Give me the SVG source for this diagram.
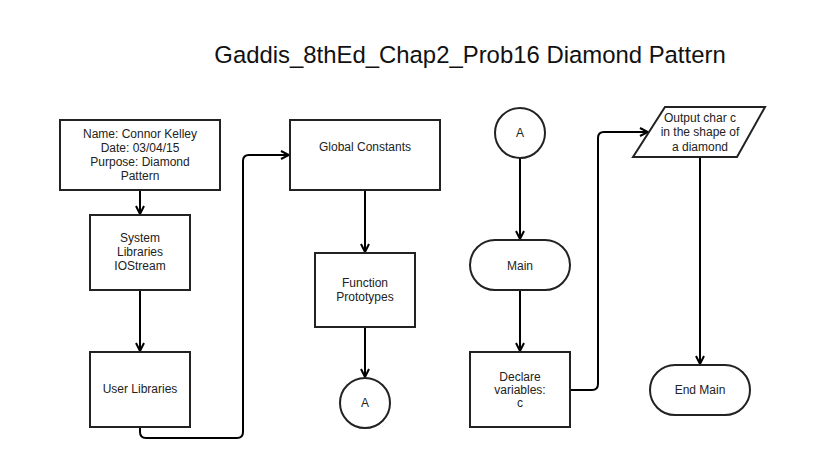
<svg xmlns="http://www.w3.org/2000/svg" width="838" height="464" viewBox="0 0 838 464">
<defs>
<style>
.n{fill:#fff;stroke:#222;stroke-width:2}
.t{font-family:"Liberation Sans",Arial,sans-serif;font-size:12px;fill:#222;text-anchor:middle;dominant-baseline:central}
.c{fill:none;stroke:#000;stroke-width:2;marker-end:url(#ah)}
</style>
<marker id="ah" viewBox="0 0 10 10" refX="9" refY="5" markerWidth="10" markerHeight="10" markerUnits="userSpaceOnUse" orient="auto">
<path d="M1,1 L9,5 L1,9" fill="none" stroke="#000" stroke-width="2"/>
</marker>
</defs>
<rect width="838" height="464" fill="#fff"/>
<text x="470" y="63" style="font-family:'Liberation Sans',Arial,sans-serif;font-size:23.9px;fill:#111;text-anchor:middle">Gaddis_8thEd_Chap2_Prob16 Diamond Pattern</text>
<g id="connectors">
<path class="c" d="M140,190 V214"/>
<path class="c" d="M140,290 V351"/>
<path class="c" d="M140,427 V432 Q140,438 146,438 H237 Q243,438 243,432 V161 Q243,155 249,155 H289"/>
<path class="c" d="M365,190 V252"/>
<path class="c" d="M365,327 V377"/>
<path class="c" d="M520,158 V239"/>
<path class="c" d="M520,290 V351"/>
<path class="c" d="M570,390 H592 Q598,390 598,384 V138 Q598,132 604,132 H648"/>
<path class="c" d="M700,157 V364"/>
</g>
<g id="n1"><rect class="n" x="60" y="120" width="160" height="70"/>
<text class="t" x="140" y="134">Name: Connor Kelley</text><text class="t" x="140" y="148">Date: 03/04/15</text><text class="t" x="140" y="162">Purpose: Diamond</text><text class="t" x="140" y="176">Pattern</text></g>
<g id="n2"><rect class="n" x="90" y="215" width="100" height="75"/>
<text class="t" x="140" y="238">System</text><text class="t" x="140" y="252">Libraries</text><text class="t" x="140" y="266">IOStream</text></g>
<g id="n3"><rect class="n" x="90" y="352" width="100" height="75"/>
<text class="t" x="140" y="389">User Libraries</text></g>
<g id="n4"><rect class="n" x="290" y="120" width="150" height="70"/>
<text class="t" x="365" y="147">Global Constants</text></g>
<g id="n5"><rect class="n" x="315" y="253" width="100" height="74"/>
<text class="t" x="365" y="283">Function</text><text class="t" x="365" y="297">Prototypes</text></g>
<g id="n6"><circle class="n" cx="365" cy="403" r="25"/>
<text class="t" x="365" y="403">A</text></g>
<g id="n7"><circle class="n" cx="520" cy="133" r="25"/>
<text class="t" x="520" y="133">A</text></g>
<g id="n8"><rect class="n" x="470" y="240" width="100" height="50" rx="25"/>
<text class="t" x="520" y="266">Main</text></g>
<g id="n9"><rect class="n" x="470" y="352" width="100" height="75"/>
<text class="t" x="520" y="377">Declare</text><text class="t" x="520" y="390">variables:</text><text class="t" x="520" y="403">c</text></g>
<g id="n10"><polygon class="n" points="665,107 765,107 737,157 633,157"/>
<text class="t" x="700" y="118">Output char c</text><text class="t" x="700" y="132">in the shape of</text><text class="t" x="700" y="147">a diamond</text></g>
<g id="n11"><rect class="n" x="650" y="365" width="100" height="50" rx="25"/>
<text class="t" x="700" y="390">End Main</text></g>
</svg>
